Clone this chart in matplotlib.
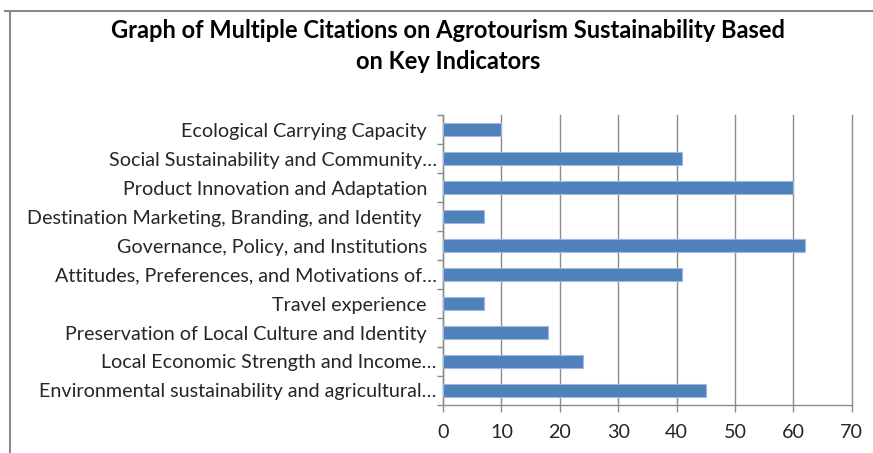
import numpy as np
import matplotlib.pyplot as plt
from matplotlib.lines import Line2D
from matplotlib.ticker import FixedLocator

# indicators, top to bottom as shown on the chart
indicators = [
    "Ecological Carrying Capacity  ",
    "Social Sustainability and Community\u2026",
    "Product Innovation and Adaptation  ",
    "Destination Marketing, Branding, and Identity   ",
    "Governance, Policy, and Institutions  ",
    "Attitudes, Preferences, and Motivations of\u2026",
    "Travel experience  ",
    "Preservation of Local Culture and Identity  ",
    "Local Economic Strength and Income\u2026",
    "Environmental sustainability and agricultural\u2026",
]
citations = [10, 41, 60, 7, 62, 41, 7, 18, 24, 45]
xticks = [0, 10, 20, 30, 40, 50, 60, 70]

plt.rcParams['font.family'] = ['Lato', 'DejaVu Sans']
text_col = '#262626'
grid_col = '#8c8c8c'

fig = plt.figure(figsize=(8.73, 4.53), dpi=100)
ax = fig.add_axes([0.5074, 0.106, 0.4682, 0.640])

ypos = np.arange(len(indicators))[::-1]
ax.barh(ypos, citations, height=0.42, color='#4f81bd', edgecolor='#9db9dc',
        linewidth=0.8, zorder=3)

ax.set_xlim(0, 70)
ax.set_ylim(-0.5, len(indicators) - 0.5)
ax.set_xticks(xticks)
ax.set_xticklabels([str(t) for t in xticks])
ax.set_yticks(ypos)
ax.set_yticklabels(indicators)
ax.yaxis.set_minor_locator(FixedLocator(np.arange(-0.5, len(indicators), 1.0)))

ax.tick_params(axis='y', which='major', length=0, pad=4.3, labelsize=14.2, labelcolor=text_col)
ax.tick_params(axis='y', which='minor', length=4.5, color=grid_col, width=1)
ax.tick_params(axis='x', which='major', length=5, color=grid_col, width=1,
               labelsize=14.2, labelcolor=text_col, pad=9)

ax.grid(axis='x', color=grid_col, linewidth=1, zorder=0)
for gl in ax.get_xgridlines():
    gl.set_clip_on(False)
for side in ['top', 'right']:
    ax.spines[side].set_visible(False)
for side in ['left', 'bottom']:
    ax.spines[side].set_color(grid_col)
    ax.spines[side].set_linewidth(1)

fig.text(0.513, 1 - 30 / 453, "Graph of Multiple Citations on Agrotourism Sustainability Based",
         ha='center', va='center', fontsize=17, fontweight='bold', color='#000000')
fig.text(0.513, 1 - 61.5 / 453, "on Key Indicators",
         ha='center', va='center', fontsize=17, fontweight='bold', color='#000000')

# chart frame (top and left edges)
fig.add_artist(Line2D([5 / 873, 1], [1 - 10.5 / 453, 1 - 10.5 / 453],
                      color='#8a8a8a', linewidth=1.5, transform=fig.transFigure))
fig.add_artist(Line2D([9.5 / 873, 9.5 / 873], [1 - 10.5 / 453, 0],
                      color='#8a8a8a', linewidth=1.5, transform=fig.transFigure))

fig.savefig('out.png', dpi=100)
